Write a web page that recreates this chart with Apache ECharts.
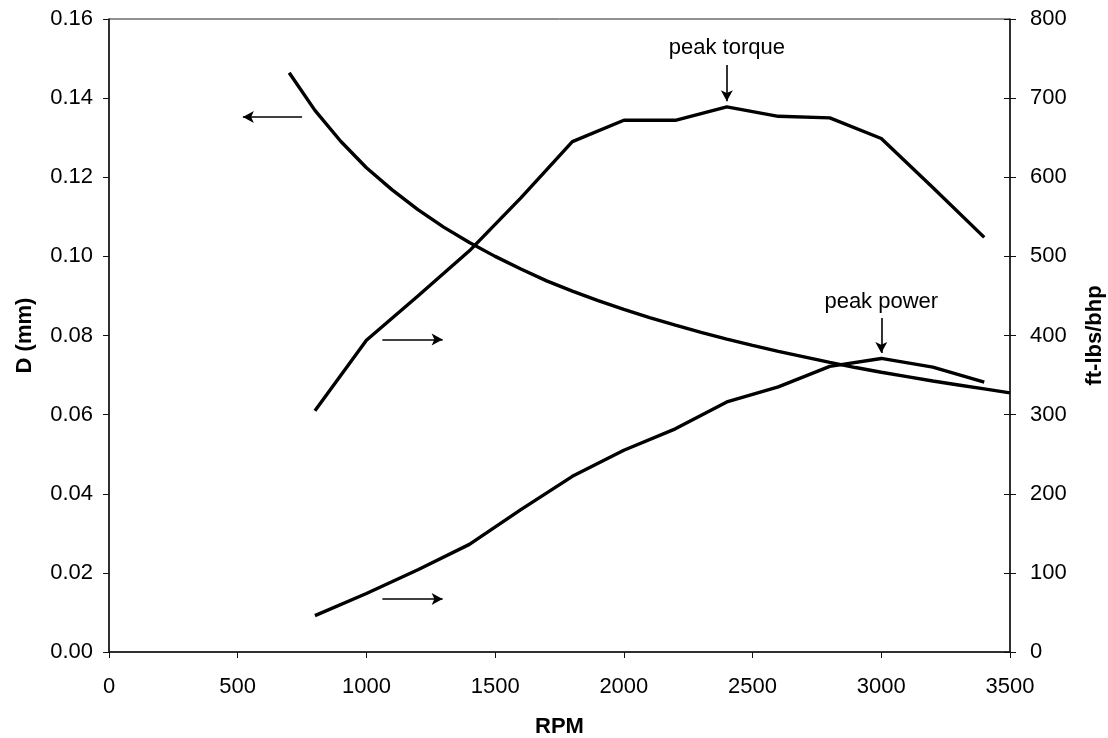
<!DOCTYPE html>
<html>
<head>
<meta charset="utf-8">
<script src="https://cdn.jsdelivr.net/npm/echarts@6/dist/echarts.min.js"></script>
<style>
  html, body { margin: 0; padding: 0; background: #fff; }
  #chart { width: 1108px; height: 738px; }
</style>
</head>
<body>
<div id="chart"></div>
<script>
// ---- data ----
const dRpm = [700, 800, 900, 1000, 1100, 1200, 1300, 1400, 1500, 1600, 1700, 1800, 1900, 2000,
  2100, 2200, 2300, 2400, 2500, 2600, 2700, 2800, 2900, 3000, 3100, 3200, 3300, 3400, 3500];
const dValues = [0.1464, 0.1369, 0.1291, 0.1224, 0.1168, 0.1118, 0.1074, 0.1035, 0.1000, 0.0968,
  0.0938, 0.0912, 0.0888, 0.0866, 0.0845, 0.0826, 0.0808, 0.0791, 0.0775, 0.0760, 0.0746, 0.0732,
  0.0719, 0.0707, 0.0696, 0.0685, 0.0675, 0.0665, 0.0655];

const engineRpm = [800, 1000, 1200, 1400, 1600, 1800, 2000, 2200, 2400, 2600, 2800, 3000, 3200, 3400];
const torque = [305, 394, 450, 507, 574, 645, 672, 672, 689, 677, 675, 649, 587, 524];
const power = [46, 74, 104, 136, 180, 222, 255, 282, 316, 335, 361, 371, 360, 341];

const xTicks = { min: 0, max: 3500, interval: 500 };
const leftTicks = { min: 0, max: 0.16, interval: 0.02 };
const rightTicks = { min: 0, max: 800, interval: 100 };

// annotations (data coordinates)
const dArrow = { from: [750, 0.1352], to: [520, 0.1352] };
const torqueArrow = { from: [1062, 395], to: [1296, 395] };
const powerArrow = { from: [1062, 67], to: [1296, 67] };
const peakTorque = { rpm: 2400, textAt: 763, arrowFrom: 742, arrowTo: 696, label: 'peak torque' };
const peakPower = { rpm: 3000, textAt: 443, arrowFrom: 422, arrowTo: 378, label: 'peak power' };

// ---- chart ----
const FONT = '"Liberation Sans", Arial, sans-serif';
const TICK_FS = 22;
const chart = echarts.init(document.getElementById('chart'));

function arrowLine(from, to) {
  return [{ coord: from }, { coord: to }];
}
const arrowStyle = {
  silent: true,
  symbol: ['none', 'arrow'],
  symbolSize: [9, 11],
  lineStyle: { color: '#000', width: 1.6, type: 'solid' },
  label: { show: false },
  emphasis: { disabled: true }
};
function textPoint(x, y, text) {
  return {
    coord: [x, y],
    symbol: 'rect',
    symbolSize: 1,
    itemStyle: { color: 'rgba(0,0,0,0)' },
    label: { show: true, formatter: text, position: 'inside', color: '#000', fontSize: TICK_FS, fontFamily: FONT }
  };
}

const option = {
  animation: false,
  backgroundColor: '#fff',
  grid: {
    left: 109, right: 98, top: 19, bottom: 86,
    outerBoundsMode: 'none', containLabel: false,
    show: true, borderColor: '#222', borderWidth: 1, backgroundColor: 'transparent'
  },
  xAxis: {
    type: 'value',
    min: xTicks.min, max: xTicks.max, interval: xTicks.interval,
    name: 'RPM', nameLocation: 'middle', nameGap: 64,
    nameTextStyle: { fontSize: TICK_FS, fontWeight: 'bold', color: '#000', fontFamily: FONT },
    axisLine: { show: true, lineStyle: { color: '#111', width: 1.5 } },
    axisTick: { show: true, inside: false, length: 6, lineStyle: { color: '#111' } },
    axisLabel: { color: '#000', fontSize: TICK_FS, fontFamily: FONT, margin: 24, formatter: v => String(v) },
    splitLine: { show: false }
  },
  yAxis: [
    {
      type: 'value', position: 'left',
      min: leftTicks.min, max: leftTicks.max, interval: leftTicks.interval,
      name: 'D (mm)', nameLocation: 'middle', nameGap: 73, nameRotate: 90,
      nameTextStyle: { fontSize: TICK_FS, fontWeight: 'bold', color: '#000', fontFamily: FONT },
      axisLine: { show: true, lineStyle: { color: '#111', width: 1.5 } },
      axisTick: { show: true, inside: false, length: 6, lineStyle: { color: '#111' } },
      axisLabel: { color: '#000', fontSize: TICK_FS, fontFamily: FONT, margin: 16, formatter: v => v.toFixed(2) },
      splitLine: { show: false }
    },
    {
      type: 'value', position: 'right',
      min: rightTicks.min, max: rightTicks.max, interval: rightTicks.interval,
      name: 'ft-lbs/bhp', nameLocation: 'middle', nameGap: 74, nameRotate: 90,
      nameTextStyle: { fontSize: TICK_FS, fontWeight: 'bold', color: '#000', fontFamily: FONT },
      axisLine: { show: true, lineStyle: { color: '#111', width: 1.5 } },
      axisTick: { show: true, inside: false, length: 6, lineStyle: { color: '#111' } },
      axisLabel: { color: '#000', fontSize: TICK_FS, fontFamily: FONT, margin: 20 },
      splitLine: { show: false }
    },
    {
      type: 'value', position: 'right',
      min: rightTicks.min, max: rightTicks.max, interval: rightTicks.interval,
      axisLine: { show: false },
      axisTick: { show: true, inside: true, length: 6, lineStyle: { color: '#111' } },
      axisLabel: { show: false },
      splitLine: { show: false }
    }
  ],
  series: [
    {
      name: 'D', type: 'line', yAxisIndex: 0,
      data: dRpm.map((r, i) => [r, dValues[i]]),
      showSymbol: false, smooth: false,
      lineStyle: { color: '#000', width: 3.4 },
      markLine: Object.assign({ data: [arrowLine(dArrow.from, dArrow.to)] }, arrowStyle)
    },
    {
      name: 'Torque', type: 'line', yAxisIndex: 1,
      data: engineRpm.map((r, i) => [r, torque[i]]),
      showSymbol: false,
      lineStyle: { color: '#000', width: 3.4 },
      markLine: Object.assign({
        data: [
          arrowLine(torqueArrow.from, torqueArrow.to),
          arrowLine([peakTorque.rpm, peakTorque.arrowFrom], [peakTorque.rpm, peakTorque.arrowTo])
        ]
      }, arrowStyle),
      markPoint: {
        silent: true,
        data: [textPoint(peakTorque.rpm, peakTorque.textAt, peakTorque.label)]
      }
    },
    {
      name: 'Power', type: 'line', yAxisIndex: 1,
      data: engineRpm.map((r, i) => [r, power[i]]),
      showSymbol: false,
      lineStyle: { color: '#000', width: 3.4 },
      markLine: Object.assign({
        data: [
          arrowLine(powerArrow.from, powerArrow.to),
          arrowLine([peakPower.rpm, peakPower.arrowFrom], [peakPower.rpm, peakPower.arrowTo])
        ]
      }, arrowStyle),
      markPoint: {
        silent: true,
        data: [textPoint(peakPower.rpm, peakPower.textAt, peakPower.label)]
      }
    }
  ]
};
chart.setOption(option);
</script>
</body>
</html>
